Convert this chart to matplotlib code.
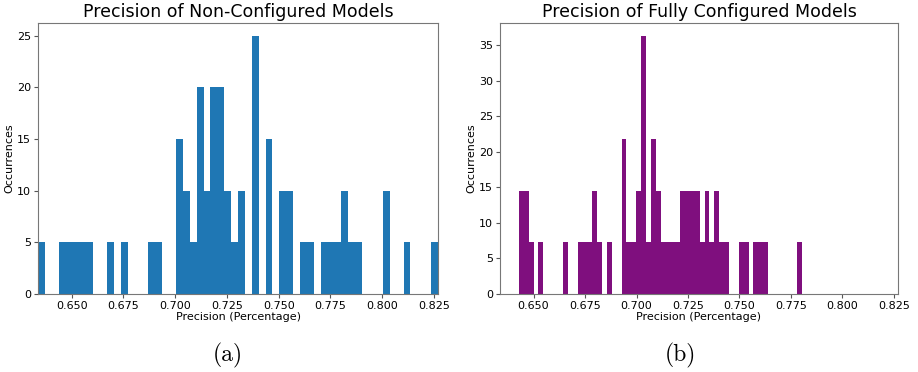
import numpy as np
import matplotlib.pyplot as plt

# counts per bin (58 bins each)
non_cfg_counts = [1, 0, 0, 1, 1, 1, 1, 1, 0, 0, 1, 0, 1, 0, 0, 0, 1, 1, 0, 0,
                  3, 2, 1, 4, 2, 4, 4, 2, 1, 2, 0, 5, 0, 3, 0, 2, 2, 0, 1, 1,
                  0, 1, 1, 1, 2, 1, 1, 0, 0, 0, 2, 0, 0, 1, 0, 0, 0, 1]
non_cfg_range = (0.6337, 0.8270)

full_cfg_counts = [2, 2, 1, 0, 1, 0, 0, 0, 0, 1, 0, 0, 1, 1, 1, 2, 1, 0, 1, 0,
                   0, 3, 1, 1, 2, 5, 1, 3, 2, 1, 1, 1, 1, 2, 2, 2, 2, 1, 2, 1,
                   2, 1, 1, 0, 0, 1, 1, 0, 1, 1, 1, 0, 0, 0, 0, 0, 0, 1]
full_cfg_range = (0.6429, 0.7805)

x_limits = (0.6337, 0.8270)

titles = ['Precision of Non-Configured Models', 'Precision of Fully Configured Models']
captions = ['(a)', '(b)']

W, H = 918, 372
fig = plt.figure(figsize=(W / 100, H / 100), dpi=100)

ax1 = fig.add_axes([38 / W, 1 - 294 / H, 400 / W, 271.3 / H])
ax2 = fig.add_axes([500 / W, 1 - 294 / H, 398 / W, 271.3 / H])

panels = [
    (ax1, non_cfg_counts, non_cfg_range, '#1f77b4'),
    (ax2, full_cfg_counts, full_cfg_range, '#7f0f7e'),
]

for i, (ax, counts, rng, col) in enumerate(panels):
    edges = np.linspace(rng[0], rng[1], len(counts) + 1)
    centers = (edges[:-1] + edges[1:]) / 2
    ax.hist(centers, bins=edges, weights=counts, density=True, color=col)
    ax.set_xlim(x_limits)
    ax.set_xticks([0.650, 0.675, 0.700, 0.725, 0.750, 0.775, 0.800, 0.825])
    ax.set_title(titles[i], fontsize=12.5, pad=4)
    ax.set_xlabel('Precision (Percentage)', fontsize=8, labelpad=1)
    ax.set_ylabel('Occurrences', fontsize=8, labelpad=1.5)
    ax.tick_params(labelsize=8, length=3, pad=2, color='#555555')
    for s in ax.spines.values():
        s.set_color('#777777')

ax2.set_yticks([0, 5, 10, 15, 20, 25, 30, 35])

fig.text(228 / W, 1 - 355 / H, captions[0], fontfamily='cmr10', fontsize=17,
         ha='center', va='center')
fig.text(680 / W, 1 - 355 / H, captions[1], fontfamily='cmr10', fontsize=17,
         ha='center', va='center')

fig.savefig('out.png', dpi=100)
